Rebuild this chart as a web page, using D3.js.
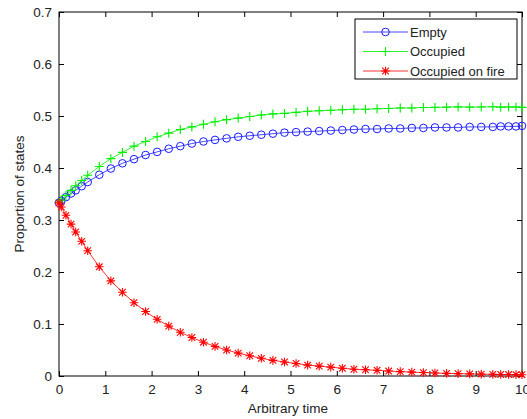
<!DOCTYPE html>
<html>
<head>
<meta charset="utf-8">
<script src="https://cdn.jsdelivr.net/npm/d3@7"></script>
<style>
  html, body { margin: 0; padding: 0; background: #fff; }
  svg text { font-family: "Liberation Sans", Arial, Helvetica, sans-serif; fill: #222; }
</style>
</head>
<body>
<svg id="chart" width="527" height="419"></svg>
<script>
// ---- data ----
const timePoints = [0, 0.05, 0.15, 0.26, 0.36, 0.49, 0.62, 0.87, 1.12, 1.37, 1.62, 1.87, 2.12, 2.37, 2.62, 2.87,
  3.12, 3.37, 3.62, 3.87, 4.12, 4.37, 4.62, 4.87, 5.12, 5.37, 5.62, 5.87, 6.12, 6.37, 6.62, 6.87,
  7.12, 7.37, 7.62, 7.87, 8.12, 8.37, 8.62, 8.87, 9.12, 9.37, 9.54, 9.71, 9.87, 10.0];
const emptyValues = [0.333, 0.337, 0.344, 0.351, 0.357, 0.365, 0.373, 0.387, 0.399, 0.409, 0.417, 0.425, 0.431, 0.437, 0.442, 0.447,
  0.451, 0.454, 0.457, 0.460, 0.462, 0.464, 0.466, 0.468, 0.469, 0.470, 0.471, 0.472, 0.473, 0.474, 0.475, 0.475,
  0.476, 0.476, 0.477, 0.477, 0.478, 0.478, 0.478, 0.479, 0.479, 0.479, 0.480, 0.480, 0.480, 0.481];
const occupiedValues = [0.334, 0.338, 0.347, 0.357, 0.366, 0.376, 0.386, 0.403, 0.418, 0.430, 0.442, 0.451, 0.460, 0.467, 0.474, 0.479,
  0.484, 0.489, 0.493, 0.496, 0.499, 0.502, 0.504, 0.505, 0.507, 0.509, 0.510, 0.511, 0.512, 0.513, 0.513, 0.514,
  0.5145, 0.5155, 0.5155, 0.5164, 0.5165, 0.517, 0.5175, 0.517, 0.5174, 0.5178, 0.517, 0.5172, 0.5174, 0.5165];
const fireValues = [0.333, 0.325, 0.309, 0.292, 0.277, 0.259, 0.241, 0.210, 0.183, 0.161, 0.141, 0.124, 0.109, 0.096, 0.084, 0.074,
  0.065, 0.057, 0.050, 0.044, 0.039, 0.034, 0.030, 0.027, 0.024, 0.021, 0.019, 0.017, 0.015, 0.013, 0.012, 0.011,
  0.0095, 0.0085, 0.0075, 0.0066, 0.0058, 0.005, 0.0045, 0.004, 0.0036, 0.0032, 0.003, 0.0028, 0.0026, 0.0025];
const seriesNames = ["Empty", "Occupied", "Occupied on fire"];
const xTicks = [0, 1, 2, 3, 4, 5, 6, 7, 8, 9, 10];
const yTicks = [0, 0.1, 0.2, 0.3, 0.4, 0.5, 0.6, 0.7];
const xLabel = "Arbitrary time";
const yLabel = "Proportion of states";

// ---- layout ----
const svg = d3.select("#chart");
const pLeft = 59, pRight = 522, pTop = 12, pBottom = 376;
const x = d3.scaleLinear().domain([0, 10]).range([pLeft, pRight]);
const y = d3.scaleLinear().domain([0, 0.7]).range([pBottom, pTop]);
const fs = 13.5;

const series = [
  { name: seriesNames[0], values: emptyValues, color: "#1a1aff", marker: "circle" },
  { name: seriesNames[1], values: occupiedValues, color: "#00ee00", marker: "plus" },
  { name: seriesNames[2], values: fireValues, color: "#ff0000", marker: "star" }
];

// axes with inward ticks
const tickLen = 5;
const fmt = d => d3.format("~g")(d);
const gx = svg.append("g").attr("transform", `translate(0,${pBottom})`)
  .call(d3.axisBottom(x).tickValues(xTicks).tickFormat(fmt).tickSizeInner(-tickLen).tickSizeOuter(0).tickPadding(8));
const gxTop = svg.append("g").attr("transform", `translate(0,${pTop})`)
  .call(d3.axisTop(x).tickValues(xTicks).tickFormat("").tickSizeInner(-tickLen).tickSizeOuter(0));
const gy = svg.append("g").attr("transform", `translate(${pLeft},0)`)
  .call(d3.axisLeft(y).tickValues(yTicks).tickFormat(fmt).tickSizeInner(-tickLen).tickSizeOuter(0).tickPadding(7));
const gyRight = svg.append("g").attr("transform", `translate(${pRight},0)`)
  .call(d3.axisRight(y).tickValues(yTicks).tickFormat("").tickSizeInner(-tickLen).tickSizeOuter(0));

[gx, gxTop, gy, gyRight].forEach(g => {
  g.select(".domain").remove();
  g.selectAll(".tick line").attr("stroke", "#000").attr("stroke-width", 1);
  g.selectAll("text").attr("font-size", fs).attr("fill", "#222")
    .style("font-family", '"Liberation Sans", Arial, sans-serif');
});
// box
svg.append("rect").attr("x", pLeft).attr("y", pTop).attr("width", pRight - pLeft).attr("height", pBottom - pTop)
  .attr("fill", "none").attr("stroke", "#000").attr("stroke-width", 1);

// axis labels
svg.append("text").attr("x", 288).attr("y", 413).attr("text-anchor", "middle")
  .attr("font-size", fs).text(xLabel);
svg.append("text").attr("transform", `translate(24,${(pTop + pBottom) / 2}) rotate(-90)`)
  .attr("text-anchor", "middle").attr("font-size", fs).text(yLabel);

// marker drawing
function drawMarker(g, type, color, cx, cy) {
  if (type === "circle") {
    g.append("circle").attr("cx", cx).attr("cy", cy).attr("r", 3.8)
      .attr("fill", "none").attr("stroke", color).attr("stroke-width", 1);
  } else if (type === "plus") {
    const s = 4.5;
    g.append("path").attr("d", `M${cx - s},${cy}H${cx + s}M${cx},${cy - s}V${cy + s}`)
      .attr("stroke", color).attr("stroke-width", 1.1).attr("fill", "none");
  } else {
    const s = 4.3, d = 3.3;
    g.append("path").attr("d",
      `M${cx - s},${cy}H${cx + s}M${cx},${cy - s}V${cy + s}M${cx - d},${cy - d}L${cx + d},${cy + d}M${cx - d},${cy + d}L${cx + d},${cy - d}`)
      .attr("stroke", color).attr("stroke-width", 1.1).attr("fill", "none");
  }
}

const line = d3.line().x(d => x(d[0])).y(d => y(d[1]));
const plotG = svg.append("g");
series.forEach(s => {
  const pts = timePoints.map((t, i) => [t, s.values[i]]);
  plotG.append("path").datum(pts).attr("d", line).attr("fill", "none")
    .attr("stroke", s.color).attr("stroke-width", 0.8);
  const mg = plotG.append("g");
  pts.forEach(p => drawMarker(mg, s.marker, s.color, x(p[0]), y(p[1])));
});

// legend
const lg = svg.append("g");
lg.append("rect").attr("x", 355).attr("y", 19).attr("width", 162).attr("height", 60)
  .attr("fill", "#fff").attr("stroke", "#000").attr("stroke-width", 1);
series.forEach((s, i) => {
  const ly = 32 + i * 19.5;
  lg.append("line").attr("x1", 363).attr("x2", 408).attr("y1", ly).attr("y2", ly)
    .attr("stroke", s.color).attr("stroke-width", 0.8);
  drawMarker(lg, s.marker, s.color, 385.5, ly);
  lg.append("text").attr("x", 410).attr("y", ly + 4.8).attr("font-size", 13).text(s.name);
});
</script>
</body>
</html>
